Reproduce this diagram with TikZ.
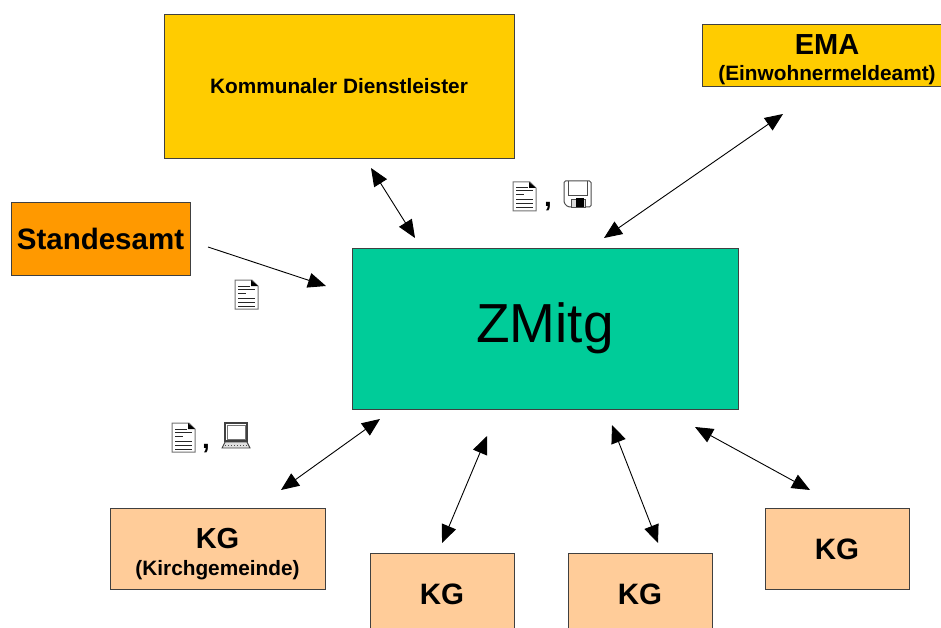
\documentclass[tikz,border=0pt]{standalone}
\usepackage{fontspec}
\setmainfont{Liberation Sans}
\usetikzlibrary{arrows.meta}
\definecolor{FilledAmt}{HTML}{FF9900}
\definecolor{FilledDienst}{HTML}{FFCC00}
\definecolor{FilledZentral}{HTML}{00CC99}
\definecolor{FilledGemeinde}{HTML}{FFCC99}
\tikzset{
    box/.style={draw=black!75, line width=1pt, inner sep=0pt, align=center, font=\bfseries\fontsize{20.8}{29}\selectfont},
    big/.style={font=\bfseries\fontsize{29.5}{34}\selectfont},
    link/.style={line width=0.9pt, {Triangle[length=18pt,width=15pt]}-{Triangle[length=18pt,width=15pt]}},
    oneway/.style={line width=0.9pt, -{Triangle[length=18pt,width=15pt]}},
    komma/.style={font=\bfseries\fontsize{28}{32}\selectfont, inner sep=0pt, anchor=base},
    doc/.pic={
        \draw[black!55, line width=1pt, fill=white] (0,0) -- (17,0) -- (23,6) -- (23,29) -- (0,29) -- cycle;
        \fill[black] (16,0) -- (23,6) -- (16,6) -- cycle;
        \foreach \y/\x in {6/12, 9/17, 13/8, 18/17, 22/17, 26/17}
            \draw[black!85, line width=1pt] (3,\y) -- (3+\x,\y);
    },
    floppy/.pic={
        \draw[black!70, line width=1pt, fill=white, rounded corners=1.5pt] (0,0) -- (27,0) -- (27,26) -- (4,26) -- (0,22) -- cycle;
        \draw[black!70, line width=0.9pt] (4,0) -- (4,14) -- (23,14) -- (23,0);
        \draw[black!70, line width=0.8pt, fill=black!15] (7,18) rectangle (21,26);
        \fill[black] (12,17) rectangle (20,26);
    },
    laptop/.pic={
        \draw[black!75, line width=1.2pt, fill=white] (3,0) rectangle (25,18);
        \draw[black!55, line width=0.8pt] (5,2) rectangle (23,16);
        \draw[black!75, line width=0.9pt, fill=black!12] (3,19) -- (25,19) -- (28,25) -- (0,25) -- cycle;
        \draw[black!70, line width=1pt, dotted] (3,22) -- (25,22);
    }
}
\begin{document}
\begin{tikzpicture}[x=1pt, y=-1pt]

\clip (0,0) rectangle (941,628);
\fill[white] (0,0) rectangle (941,628);

% Kaesten
\node[box, fill=FilledDienst, minimum width=350pt, minimum height=144pt] (dienst) at (339,86.5) {Kommunaler Dienstleister};
\node[box, fill=FilledDienst, minimum width=250pt, minimum height=62pt] (ema) at (827,55.5) {\rule{0pt}{28pt}{\fontsize{29}{29}\selectfont EMA}\\[-3pt]{(Einwohnermeldeamt)}};
\node[box, big, fill=FilledAmt, minimum width=179pt, minimum height=72pt] (amt) at (100.5,239) {Standesamt};
\node[box, fill=FilledZentral, minimum width=386pt, minimum height=161pt, font=\mdseries\fontsize{55}{60}\selectfont] (zmitg) at (545,328.5) {\raisebox{-4pt}{ZMitg}};
\node[box, fill=FilledGemeinde, minimum width=215pt, minimum height=81pt] (kga) at (217.5,548.5) {\rule{0pt}{31pt}{\fontsize{29}{29}\selectfont KG}\\[-2pt]{(Kirchgemeinde)}};
\node[box, big, fill=FilledGemeinde, minimum width=144pt, minimum height=81pt] (kgb) at (442,594) {KG};
\node[box, big, fill=FilledGemeinde, minimum width=144pt, minimum height=81pt] (kgc) at (640,594) {KG};
\node[box, big, fill=FilledGemeinde, minimum width=144pt, minimum height=81pt] (kgd) at (837,549) {KG};

% Pfeile enden frei neben den Kaesten
\coordinate (dienstEnd) at (371,168);
\coordinate (dienstZ) at (415,238);
\coordinate (emaEnd) at (783,114);
\coordinate (emaZ) at (604,238);
\coordinate (amtEnd) at (208,247);
\coordinate (amtZ) at (326,286);
\coordinate (kgaEnd) at (281,490);
\coordinate (kgaZ) at (380,419);
\coordinate (kgbEnd) at (442,543);
\coordinate (kgbZ) at (487,436);
\coordinate (kgcEnd) at (658,543);
\coordinate (kgcZ) at (612,425);
\coordinate (kgdEnd) at (810,490);
\coordinate (kgdZ) at (695,427);

\draw[link] (dienstEnd) -- (dienstZ);
\draw[link] (emaEnd) -- (emaZ);
\draw[oneway] (amtEnd) -- (amtZ);
\draw[link] (kgaEnd) -- (kgaZ);
\draw[link] (kgbEnd) -- (kgbZ);
\draw[link] (kgcEnd) -- (kgcZ);
\draw[link] (kgdEnd) -- (kgdZ);

% Symbole
\pic at (513,182) {doc};
\node[komma] (kommaa) at (548,207) {,};
\pic at (564,181) {floppy};
\pic at (235,280) {doc};
\pic at (172,423) {doc};
\node[komma] (kommab) at (206,448) {,};
\pic at (222,423) {laptop};

\end{tikzpicture}
\end{document}
